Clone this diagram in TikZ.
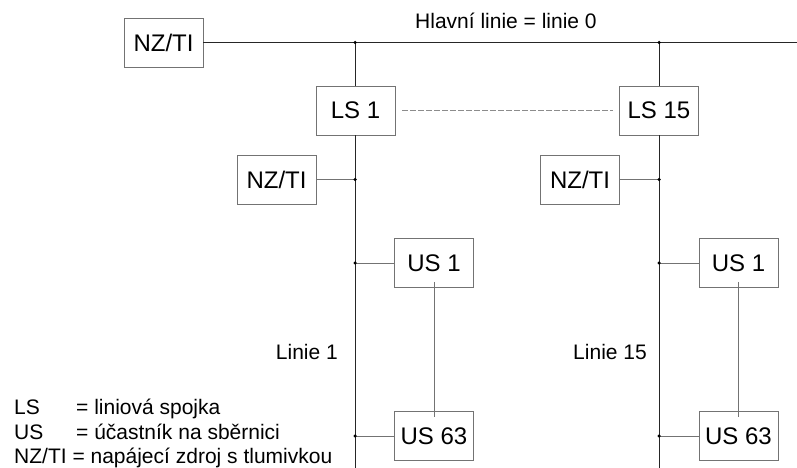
\documentclass[tikz,border=0pt]{standalone}
\usepackage{fontspec}
\setmainfont{Liberation Sans}
\begin{document}
\begin{tikzpicture}[x=1pt,y=-1pt,
  box/.style={draw=black!55,line width=0.8pt,minimum width=79pt,minimum height=49pt,inner sep=0pt,font=\fontsize{24}{28}\selectfont},
  bus/.style={draw=black!85,line width=0.8pt},
  tap/.style={draw=black!55,line width=0.8pt},
  lbl/.style={font=\fontsize{21}{24}\selectfont,inner sep=0pt},
  dot/.style={circle,fill=black,inner sep=0pt,minimum size=3.5pt}]
\useasboundingbox (0,0) rectangle (797,468);
% boxes
\node[box] (nzt) at (163.5,42.5) {NZ/TI};
\node[box] (ls1) at (355.5,110.5) {LS 1};
\node[box] (ls15) at (659,110.5) {LS 15};
\node[box] (nz1) at (276.5,179.5) {NZ/TI};
\node[box] (nz15) at (580,179.5) {NZ/TI};
\node[box] (usa1) at (434,263) {US 1};
\node[box] (usa63) at (434,436) {US 63};
\node[box] (usb1) at (738.5,263) {US 1};
\node[box] (usb63) at (738.5,436) {US 63};
% junction points
\coordinate (ja) at (355,42.5);
\coordinate (jb) at (659,42.5);
\coordinate (lineend) at (797,42.5);
\coordinate (ea) at (355,468);
\coordinate (eb) at (659,468);
\coordinate (ka) at (355,179.5);
\coordinate (kb) at (659,179.5);
\coordinate (ma) at (355,263);
\coordinate (mb) at (659,263);
\coordinate (na) at (355,436);
\coordinate (nb) at (659,436);
% main line and the two line branches
\draw[bus] (nzt.east) -- (lineend);
\draw[bus] (ja) -- (ja |- ls1.north);
\draw[bus] (jb) -- (jb |- ls15.north);
\draw[bus] (ea |- ls1.south) -- (ea);
\draw[bus] (eb |- ls15.south) -- (eb);
% taps to the devices
\draw[tap] (nz1.east) -- (ka);
\draw[tap] (nz15.east) -- (kb);
\draw[tap] (ma) -- (usa1.west);
\draw[tap] (na) -- (usa63.west);
\draw[tap] (mb) -- (usb1.west);
\draw[tap] (nb) -- (usb63.west);
\draw[tap] ([yshift=6pt]usa1.south) -- ([yshift=-6pt]usa63.north);
\draw[tap] ([yshift=6pt]usb1.south) -- ([yshift=-6pt]usb63.north);
\draw[draw=black!45,line width=0.8pt,dash pattern=on 6pt off 2pt] ([xshift=7pt]ls1.east) -- ([xshift=-6pt]ls15.west);
% dots
\foreach \p in {ja,jb,ka,kb,ma,mb,na,nb} \node[dot] at (\p) {};
% labels
\node[lbl,anchor=base west] (hl) at (415,28.5) {Hlavní linie = linie 0};
\node[lbl,anchor=base east] (l1) at (338,359.5) {Linie 1};
\node[lbl,anchor=base east] (l15) at (647,359.5) {Linie 15};
% legend
\node[lbl,anchor=base west] (k1) at (14,414) {LS};
\node[lbl,anchor=base west] (k2) at (14,439) {US};
\node[lbl,anchor=base west] (k3) at (14,463.5) {NZ/TI = napájecí zdroj s tlumivkou};
\node[lbl,anchor=base west] (v1) at (76,414) {= liniová spojka};
\node[lbl,anchor=base west] (v2) at (76,439) {= účastník na sběrnici};
\end{tikzpicture}
\end{document}
